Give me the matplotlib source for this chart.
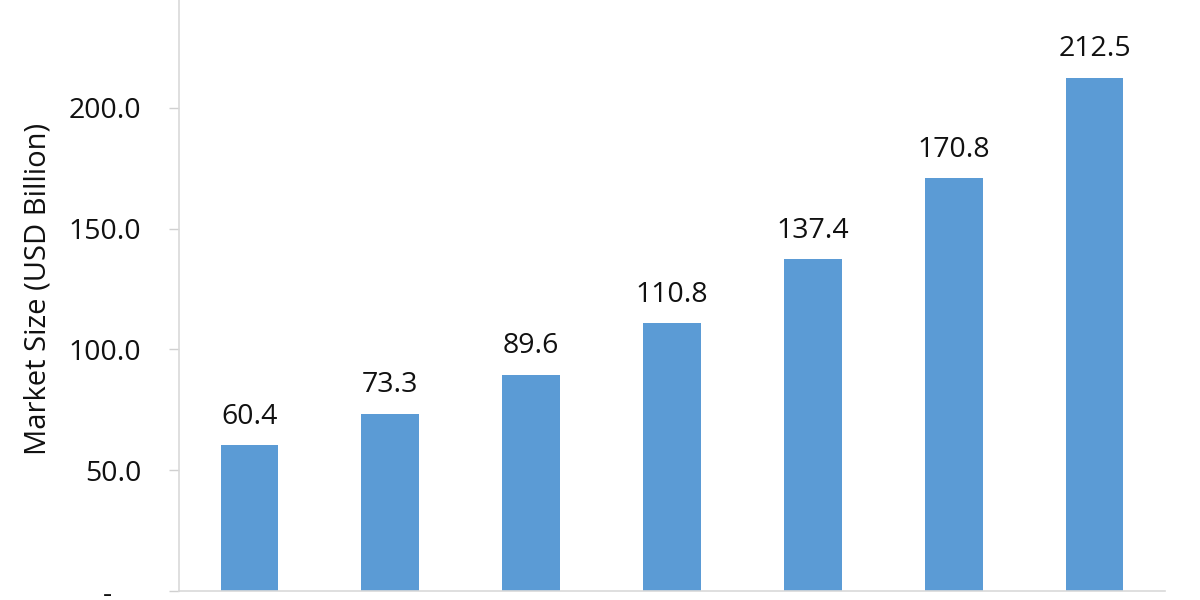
import matplotlib.pyplot as plt
import numpy as np

# Market size values (USD Billion), one bar per period
values = [60.4, 73.3, 89.6, 110.8, 137.4, 170.8, 212.5]
y_ticks = [0, 50, 100, 150, 200, 250]
y_tick_labels = ["-    ", "50.0", "100.0", "150.0", "200.0", "250.0"]
y_label = "Market Size (USD Billion)"

plt.rcParams["font.family"] = ["Open Sans", "DejaVu Sans"]

fig = plt.figure(figsize=(12, 6), dpi=100)
# axes top runs slightly past the figure edge, as in the cropped original
ax = fig.add_axes([179 / 1200, 9 / 600, 986 / 1200, 604 / 600])

x = np.arange(len(values))
ax.bar(x, values, width=0.41, color="#5B9BD5", zorder=2)

for xi, v in zip(x, values):
    ax.annotate(
        f"{v:.1f}",
        (xi, v),
        xytext=(0, 15.5),
        textcoords="offset points",
        ha="center",
        va="baseline",
        fontsize=20.5,
        color="#111111",
    )

ax.set_xlim(-0.5, len(values) - 0.5)
ax.set_ylim(0, 250)
ax.set_yticks(y_ticks)
ax.set_yticklabels(y_tick_labels)
ax.set_xticks([])

ax.tick_params(axis="y", labelsize=20.5, length=7, width=1, color="#D0D0D0",
               pad=20, labelcolor="#111111")
ax.set_ylabel(y_label, fontsize=21, color="#111111", labelpad=12)

for side in ("top", "right"):
    ax.spines[side].set_visible(False)
ax.spines["left"].set_color("#D9D9D9")
ax.spines["bottom"].set_color("#D9D9D9")
ax.spines["left"].set_linewidth(1.2)
ax.spines["bottom"].set_linewidth(1.2)

fig.savefig("out.png", dpi=100)
